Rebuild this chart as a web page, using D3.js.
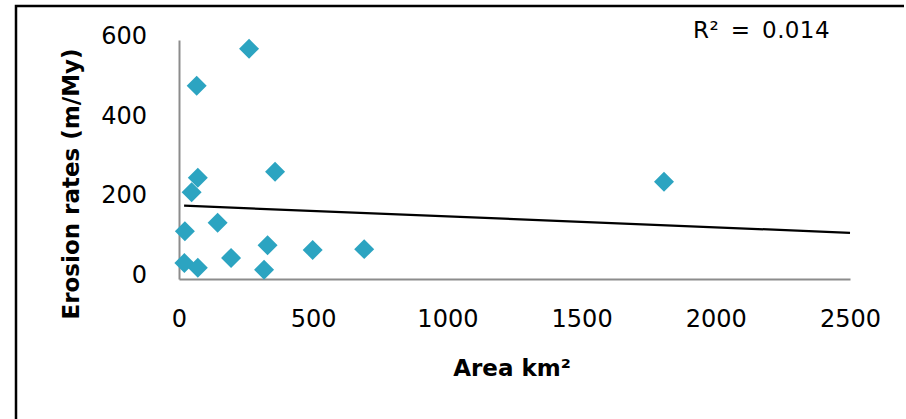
<!DOCTYPE html>
<html>
<head>
<meta charset="utf-8">
<script src="https://cdn.jsdelivr.net/npm/d3@7"></script>
<style>
  html, body { margin: 0; padding: 0; background: #fff; }
  svg { display: block; }
</style>
</head>
<body>
<svg id="chart" width="906" height="419"></svg>
<script>
// ---- data ----
const areaKm2 = [261, 66, 70, 47, 358, 22, 144, 20, 70, 194, 330, 317, 498, 690, 1807];
const erosionRates = [578, 485, 254, 218, 269, 120, 141, 40, 28, 53, 85, 23, 73, 75, 244];
const xTicks = [0, 500, 1000, 1500, 2000, 2500];
const yTicks = [0, 200, 400, 600];
const trendX = [19, 2500];
const trendY = [184, 116];
const r2Label = "R² = 0.014";
const xTitle = "Area km²";
const yTitle = "Erosion rates (m/My)";

// ---- layout ----
const svg = d3.select("#chart");
const W = 906, H = 419;
const x = d3.scaleLinear().domain([0, 2500]).range([179, 850]);
const y = d3.scaleLinear().domain([0, 600]).range([279, 40]);

// outer frame (top and left edges visible)
svg.append("path")
  .attr("d", `M16,${H} L16,6 L904,6`)
  .attr("fill", "none")
  .attr("stroke", "#000")
  .attr("stroke-width", 2.5);

const tickFont = "'DejaVu Sans', sans-serif";

// x axis
const xAxis = svg.append("g")
  .attr("transform", `translate(0,${y(0)})`)
  .call(d3.axisBottom(x).tickValues(xTicks).tickSize(0).tickSizeOuter(0).tickPadding(31).tickFormat(d3.format("d")));
xAxis.select(".domain").attr("stroke", "#8c8c8c").attr("stroke-width", 2);
xAxis.selectAll("text").attr("font-family", tickFont).attr("font-size", 24).attr("fill", "#000");

// y axis
const yAxis = svg.append("g")
  .attr("transform", `translate(${x(0)},0)`)
  .call(d3.axisLeft(y).tickValues(yTicks).tickSize(0).tickSizeOuter(0).tickPadding(32).tickFormat(d3.format("d")));
yAxis.select(".domain").attr("stroke", "#8c8c8c").attr("stroke-width", 2);
yAxis.selectAll("text").attr("font-family", tickFont).attr("font-size", 24).attr("fill", "#000").attr("dy", "0.15em");

// trendline
svg.append("path")
  .datum(trendX.map((v, i) => [v, trendY[i]]))
  .attr("d", d3.line().x(d => x(d[0])).y(d => y(d[1])))
  .attr("fill", "none")
  .attr("stroke", "#000")
  .attr("stroke-width", 2.2);

// points (diamonds)
const sym = d3.symbol().type(d3.symbolSquare).size(200);
svg.append("g").selectAll("path")
  .data(areaKm2.map((v, i) => [v, erosionRates[i]]))
  .join("path")
  .attr("d", sym)
  .attr("transform", d => `translate(${x(d[0])},${y(d[1])}) rotate(45)`)
  .attr("fill", "#2ca4c1");

// R² label
svg.append("text")
  .attr("x", 693).attr("y", 38)
  .attr("font-family", tickFont)
  .attr("font-size", 23)
  .attr("word-spacing", 4)
  .attr("letter-spacing", 0.4)
  .attr("fill", "#000")
  .text(r2Label);

// axis titles
svg.append("text")
  .attr("x", 512).attr("y", 376)
  .attr("text-anchor", "middle")
  .attr("font-family", tickFont)
  .attr("font-weight", "bold")
  .attr("font-size", 23)
  .attr("fill", "#000")
  .text(xTitle);

svg.append("text")
  .attr("transform", "translate(79,184) rotate(-90)")
  .attr("text-anchor", "middle")
  .attr("font-family", tickFont)
  .attr("font-weight", "bold")
  .attr("font-size", 23)
  .attr("fill", "#000")
  .text(yTitle);
</script>
</body>
</html>
